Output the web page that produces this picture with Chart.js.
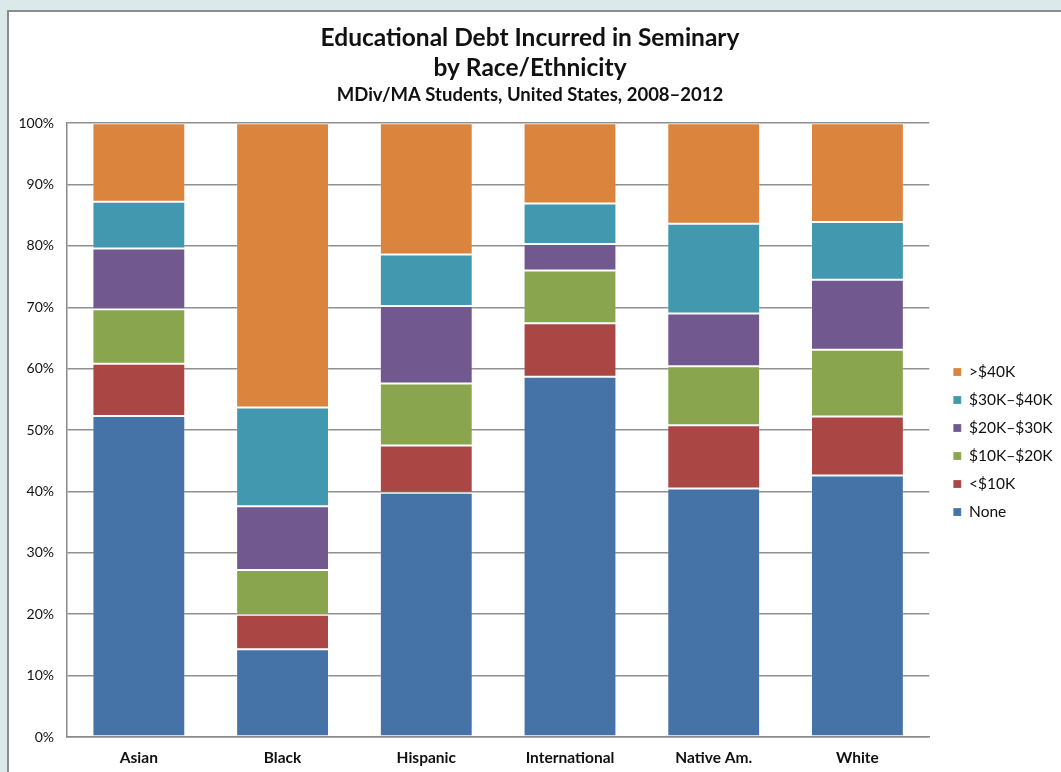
<!DOCTYPE html>
<html>
<head>
<meta charset="utf-8">
<script src="https://cdn.jsdelivr.net/npm/chart.js@4/dist/chart.umd.min.js"></script>
<style>
    html, body { margin: 0; padding: 0; overflow: hidden; background: #dce9ea; width: 1061px; height: 772px; }
    .frame { position: absolute; left: 7px; top: 10px; width: 1060px; height: 770px; background: #fff;
             border-left: 2px solid #8c8c8c; border-top: 2px solid #8c8c8c; }
    .frame canvas { position: absolute; left: 0; top: 0; }
</style>
</head>
<body>
<div class="frame">
    <canvas id="debtChart" width="1052" height="760" style="width:1052px;height:760px"></canvas>
</div>
<script>
// categories and series (percent of students)
var groups = ["Asian", "Black", "Hispanic", "International", "Native Am.", "White"];
var none      = [52.3, 14.3, 39.8, 58.7, 40.5, 42.6];
var under10k  = [8.5, 5.6, 7.7, 8.7, 10.3, 9.6];
var k10to20   = [8.9, 7.3, 10.1, 8.6, 9.6, 10.9];
var k20to30   = [9.9, 10.4, 12.6, 4.3, 8.6, 11.4];
var k30to40   = [7.6, 16.1, 8.4, 6.6, 14.6, 9.4];
var over40k   = [12.8, 46.3, 21.4, 13.1, 16.4, 16.1];
var yTicks = [0, 10, 20, 30, 40, 50, 60, 70, 80, 90, 100];

var font = "Lato, 'Open Sans', sans-serif";
var legendPad = 12.5;

function series(label, values, color) {
    return {
        label: label,
        data: values,
        backgroundColor: color,
        borderColor: "rgba(255,255,255,0.2)",
        borderWidth: 1,
        borderSkipped: false,
        barPercentage: 0.646,
        categoryPercentage: 1.0
    };
}

// nudge the legend a bit away from the plot and down to where the original has it
var legendPlacer = {
    id: "legendPlacer",
    beforeDraw: function (chart) {
        var lg = chart.legend, area = chart.chartArea;
        var w = lg.right - lg.left, h = lg.bottom - lg.top;
        var mid = (area.top + area.bottom) / 2 + 12;
        lg.left = area.right + 24 - legendPad;
        lg.right = lg.left + w;
        lg.top = mid - h / 2;
        lg.bottom = mid + h / 2;
    }
};

var ctx = document.getElementById("debtChart");
new Chart(ctx.getContext("2d"), {
    type: "bar",
    data: {
        labels: groups,
        datasets: [
            series("None", none, "#4572a7"),
            series("<$10K", under10k, "#aa4643"),
            series("$10K\u2013$20K", k10to20, "#89a54e"),
            series("$20K\u2013$30K", k20to30, "#71588f"),
            series("$30K\u2013$40K", k30to40, "#4198af"),
            series(">$40K", over40k, "#db843d")
        ]
    },
    plugins: [legendPlacer],
    options: {
        responsive: false,
        animation: false,
        layout: { padding: { top: 0, right: 10, bottom: 0, left: 0 } },
        scales: {
            x: {
                stacked: true,
                afterFit: function (scale) { scale.height = 35; },
                grid: { display: false, drawTicks: false },
                border: { color: "#8a8a8a", width: 1.5 },
                ticks: { padding: 12, color: "#111", font: { family: font, size: 15.5, weight: "bold" } }
            },
            y: {
                stacked: true,
                min: 0,
                max: 100,
                afterBuildTicks: function (scale) {
                    scale.ticks = yTicks.map(function (v) { return { value: v }; });
                },
                afterFit: function (scale) { scale.width = 58; },
                grid: { color: "#8f8f8f", lineWidth: 1.5, drawTicks: false },
                border: { color: "#8a8a8a", width: 1.5 },
                ticks: {
                    padding: 13,
                    color: "#111",
                    font: { family: font, size: 14 },
                    callback: function (v) { return v + "%"; }
                }
            }
        },
        plugins: {
            title: {
                display: true,
                text: ["Educational Debt Incurred in Seminary", "by Race/Ethnicity"],
                color: "#111",
                font: { family: font, size: 24.5, weight: "bold", lineHeight: 1.224 },
                padding: { top: 11, bottom: 0 }
            },
            subtitle: {
                display: true,
                text: "MDiv/MA Students, United States, 2008\u20132012",
                color: "#111",
                font: { family: font, size: 18.5, weight: "bold", lineHeight: 1.2 },
                padding: { top: 1, bottom: 17 }
            },
            legend: {
                position: "right",
                reverse: true,
                labels: {
                    boxWidth: 8,
                    boxHeight: 8,
                    padding: legendPad,
                    color: "#111",
                    font: { family: font, size: 15.5 }
                }
            },
            tooltip: { enabled: false }
        }
    }
});
</script>
</body>
</html>
